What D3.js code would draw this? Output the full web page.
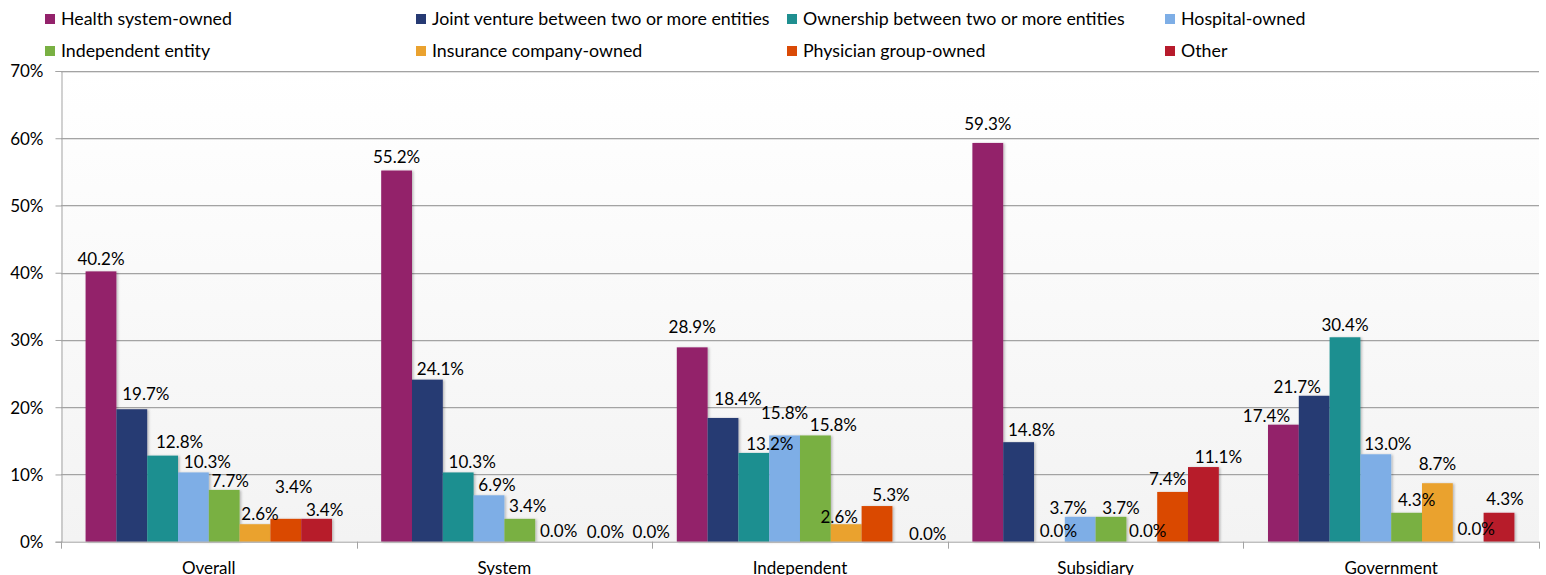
<!DOCTYPE html>
<html>
<head>
<meta charset="utf-8">
<script src="https://cdnjs.cloudflare.com/ajax/libs/d3/7.8.5/d3.min.js"></script>
<style>
  html, body { margin: 0; padding: 0; background: #ffffff; }
  svg { display: block; font-family: Lato, "Open Sans", sans-serif; }
</style>
</head>
<body>
<svg id="chart" width="1546" height="575"></svg>
<script>
// Ownership structure, share of respondents by organisation type
const categories = ["Overall", "System", "Independent", "Subsidiary", "Government"];
const seriesNames = [
  "Health system-owned",
  "Joint venture between two or more entities",
  "Ownership between two or more entities",
  "Hospital-owned",
  "Independent entity",
  "Insurance company-owned",
  "Physician group-owned",
  "Other"
];
const healthSystemOwned = [40.2, 55.2, 28.9, 59.3, 17.4];
const jointVenture      = [19.7, 24.1, 18.4, 14.8, 21.7];
const sharedOwnership   = [12.8, 10.3, 13.2, 0.0, 30.4];
const hospitalOwned     = [10.3, 6.9, 15.8, 3.7, 13.0];
const independentEntity = [7.7, 3.4, 15.8, 3.7, 4.3];
const insuranceOwned    = [2.6, 0.0, 2.6, 0.0, 8.7];
const physicianOwned    = [3.4, 0.0, 5.3, 7.4, 0.0];
const otherOwned        = [3.4, 0.0, 0.0, 11.1, 4.3];
const yTicks = [0, 10, 20, 30, 40, 50, 60, 70];

const seriesValues = [healthSystemOwned, jointVenture, sharedOwnership, hospitalOwned,
                      independentEntity, insuranceOwned, physicianOwned, otherOwned];
const colors = ["#93226b", "#263a73", "#1f8f90", "#7eaee6", "#79b043", "#eaa22f", "#da4a06", "#b71b2c"];

// Label offsets [dx, dy] so neighbouring value labels do not collide
const labelShift = [
  [[0,-2],[14,-5],[17,-4],[14,0],[6,1],[5,0],[8,-22],[8,1]],
  [[0,-4],[13,-1],[14,0],[8,0],[8,-3],[8,-1],[24,0],[39,0]],
  [[0,-10],[15,-9],[16,1],[0,-12],[18,0],[-7,3],[14,-1],[20,2]],
  [[0,-9],[13,-2],[9,-1],[-12,1],[10,1],[6,-1],[-5,-3],[15,0]],
  [[-17,1],[-17,1],[0,-2],[12,0],[10,-3],[0,-9],[8,-3],[6,-4]]
];

const FONT = 17;
const LEGEND_FONT = 17.8;
const svg = d3.select("#chart");
const plot = { left: 61, right: 1539, top: 71, bottom: 541.7 };

const x0 = d3.scaleBand().domain(categories).range([plot.left, plot.right]).padding(0);
const bw = x0.bandwidth();
const x1 = d3.scaleBand().domain(d3.range(seriesNames.length))
  .range([bw * 0.0832, bw * 0.9168]).padding(0);
const y = d3.scaleLinear().domain([0, 70]).range([plot.bottom, plot.top]);

// plot background gradient
const defs = svg.append("defs");
const grad = defs.append("linearGradient").attr("id", "bg").attr("x1", 0).attr("y1", 0).attr("x2", 0).attr("y2", 1);
grad.append("stop").attr("offset", "0%").attr("stop-color", "#ffffff");
grad.append("stop").attr("offset", "100%").attr("stop-color", "#f3f3f3");
const sh = defs.append("filter").attr("id", "shadow").attr("x", "-20%").attr("y", "-5%").attr("width", "140%").attr("height", "110%");
sh.append("feDropShadow").attr("dx", 1.5).attr("dy", 0.5).attr("stdDeviation", 0.8)
  .attr("flood-color", "#000").attr("flood-opacity", 0.25);

svg.append("rect").attr("x", plot.left).attr("y", plot.top)
  .attr("width", plot.right - plot.left).attr("height", plot.bottom - plot.top)
  .attr("fill", "url(#bg)");

// horizontal gridlines
const grid = svg.append("g");
grid.selectAll("line.g").data(yTicks.filter(t => t > 0)).join("line")
  .attr("x1", plot.left).attr("x2", plot.right)
  .attr("y1", d => Math.round(y(d)) + 0.5).attr("y2", d => Math.round(y(d)) + 0.5)
  .attr("stroke", "#a3a3a3").attr("stroke-width", 1);
grid.selectAll("line.h").data(yTicks.filter(t => t > 0)).join("line")
  .attr("x1", plot.left).attr("x2", plot.right)
  .attr("y1", d => Math.round(y(d)) + 1.5).attr("y2", d => Math.round(y(d)) + 1.5)
  .attr("stroke", "#e2e2e2").attr("stroke-width", 1);

// y axis
const yAxis = d3.axisLeft(y).tickValues(yTicks).tickFormat(d => d + "%").tickSize(6).tickPadding(12);
const gy = svg.append("g").attr("transform", `translate(${plot.left + 0.5},0)`).call(yAxis);
gy.select(".domain").attr("stroke", "#a3a3a3");
gy.selectAll(".tick line").attr("stroke", "#a3a3a3");
gy.selectAll(".tick text").attr("font-family", "Lato, sans-serif").attr("font-size", FONT)
  .attr("fill", "#000").attr("dy", "0.35em");

// bars
const groups = svg.append("g").selectAll("g").data(categories).join("g")
  .attr("transform", d => `translate(${x0(d)},0)`);
groups.selectAll("rect").data((c, gi) => seriesValues.map((s, si) => ({ gi, si, v: s[gi] })))
  .join("rect")
  .attr("x", d => x1(d.si))
  .attr("width", x1.bandwidth())
  .attr("y", d => y(d.v))
  .attr("height", d => plot.bottom - y(d.v))
  .attr("fill", d => colors[d.si])
  .attr("filter", d => d.v > 0 ? "url(#shadow)" : null);

// value labels
groups.selectAll("text").data((c, gi) => seriesValues.map((s, si) => ({ gi, si, v: s[gi] })))
  .join("text")
  .attr("x", d => x1(d.si) + x1.bandwidth() / 2 + labelShift[d.gi][d.si][0])
  .attr("y", d => y(d.v) - 4 + labelShift[d.gi][d.si][1])
  .attr("text-anchor", "middle")
  .attr("font-size", FONT)
  .attr("fill", "#000")
  .text(d => d.v.toFixed(1) + "%");

// x axis
const gx = svg.append("g").attr("transform", `translate(0,${plot.bottom})`);
gx.append("line").attr("x1", plot.left).attr("x2", plot.right).attr("y1", 0.5).attr("y2", 0.5)
  .attr("stroke", "#a3a3a3");
gx.selectAll("line.tk").data(d3.range(categories.length + 1)).join("line")
  .attr("x1", i => Math.round(plot.left + i * bw) + 0.5).attr("x2", i => Math.round(plot.left + i * bw) + 0.5)
  .attr("y1", 0).attr("y2", 7).attr("stroke", "#a3a3a3");
gx.selectAll("text.cat").data(categories).join("text")
  .attr("x", d => x0(d) + bw / 2).attr("y", 32)
  .attr("text-anchor", "middle").attr("font-size", FONT).attr("fill", "#000")
  .text(d => d);

// legend
const legendX = [45, 416, 787, 1165];
const legendY = [14, 46];
const legend = svg.append("g").selectAll("g").data(seriesNames).join("g")
  .attr("transform", (d, i) => `translate(${legendX[i % 4]},${legendY[Math.floor(i / 4)]})`);
legend.append("rect").attr("width", 10).attr("height", 10).attr("fill", (d, i) => colors[i]);
legend.append("text").attr("x", 16).attr("y", 11).attr("font-size", LEGEND_FONT).attr("fill", "#000")
  .text(d => d);
</script>
</body>
</html>
